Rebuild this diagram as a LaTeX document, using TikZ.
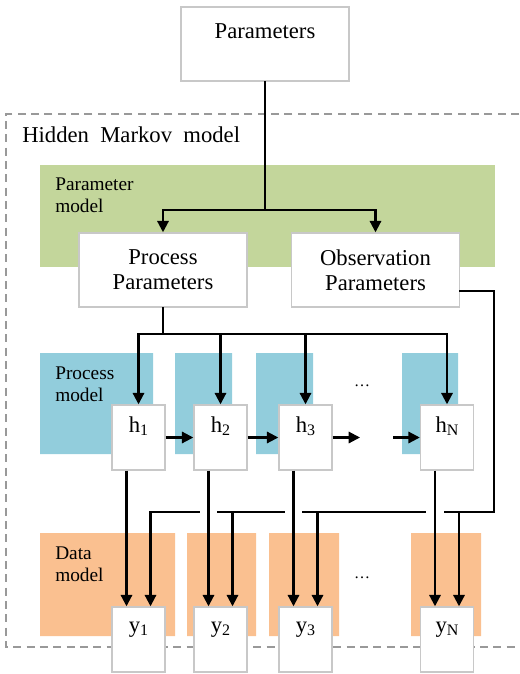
\documentclass[tikz,border=0pt]{standalone}
\usepackage{fontspec}
\setmainfont{Liberation Serif}
\usepackage{tikz}
\usetikzlibrary{arrows.meta,calc}
\definecolor{parmgreen}{RGB}{195,214,155}
\definecolor{procblue}{RGB}{146,205,220}
\definecolor{dataorange}{RGB}{250,192,144}
\definecolor{boxgray}{RGB}{200,200,200}
\newcommand{\lowidx}[1]{\raisebox{-0.3ex}{\fontsize{12}{14}\selectfont #1}}

\begin{document}
\begin{tikzpicture}[x=0.75pt,y=-0.75pt,
        wbox/.style={draw=boxgray,line width=1.1pt,fill=white,align=center,
          font=\fontsize{17}{19}\selectfont,inner sep=0pt},
        bigbox/.style={wbox,minimum width=126pt,minimum height=55.5pt},
        varbox/.style={wbox,minimum width=39.75pt,minimum height=48.75pt},
        wire/.style={line width=1.6pt,line cap=rect},
        arr/.style={line width=1.6pt,-{Triangle[length=8.5pt,width=8.5pt]}},
        modlabel/.style={anchor=north west,align=left,inner sep=0pt,
          font=\fontsize{14.5}{16}\selectfont},
        ]
        \useasboundingbox (0,0) rectangle (519,674);
        \draw[gray!80,line width=1.1pt,dash pattern=on 6pt off 4pt] (519,114) -| (6,647) -- (519,647);
        \node[anchor=north west,inner sep=0pt,font=\fontsize{17}{19}\selectfont] (hmmlabel) at (22,127) {Hidden\ \ Markov\ \ model};
        \fill[parmgreen] (40,165) rectangle (495,267);
        \fill[procblue] (40,353) rectangle (153,454) (175,353) rectangle (232,454)
          (256,353) rectangle (313,454) (402,353) rectangle (458,454);
        \fill[dataorange] (40,533) rectangle (175,636) (187,533) rectangle (256,636)
          (269,533) rectangle (339,636) (411,533) rectangle (481,636);
        \node[modlabel] (parmlabel) at (55,178) {Parameter\\model};
        \node[modlabel] (proclabel) at (55,367) {Process\\model};
        \node[modlabel] (datalabel) at (55,547) {Data\\model};
        \node[modlabel,anchor=center,font=\fontsize{12}{14}\selectfont] (hdots) at (362,386) {\ldots};
        \node[modlabel,anchor=center,font=\fontsize{12}{14}\selectfont] (ydots) at (362,578) {\ldots};

        \node[bigbox] (params) at (265,44) {Parameters\\\mbox{}};
        \node[bigbox] (procpar) at (163,270) {Process\\Parameters};
        \node[bigbox] (obspar) at (375.5,270) {Observation\\Parameters};
        \foreach \k/\x in {1/138.5,2/220.5,3/305.5,N/447} {
          \node[varbox] (h\k) at (\x,437.5) {h\lowidx{\k}\\\mbox{}};
          \node[varbox] (y\k) at (\x,639.5) {y\lowidx{\k}\\\mbox{}};
        }
        \coordinate (pbus) at (265,210);
        \coordinate (hbus) at (163,334);
        \coordinate (obsturn) at (494,512);
        \coordinate (dotsin) at (360,437.5);
        \coordinate (dotsout) at (393,437.5);

        \draw[wire] (params.south) -- (pbus);
        \draw[arr] (pbus) -| (procpar.north);
        \draw[arr] (pbus) -| (obspar.north);
        \draw[wire] (procpar.south) -- (hbus);
        \draw[arr] (hbus) -| (h1.north);
        \draw[arr] (hbus) -| (hN.north);
        \draw[arr] (h2.north |- hbus) -- (h2.north);
        \draw[arr] (h3.north |- hbus) -- (h3.north);
        \draw[arr] (h1) -- (h2);
        \draw[arr] (h2) -- (h3);
        \draw[arr] (h3) -- (dotsin);
        \draw[arr] (dotsout) -- (hN);
        \foreach \k in {1,2,3,N} {
          \draw[arr] ([xshift=-9pt]h\k.south) -- ([xshift=-9pt]y\k.north);
          \draw[arr] ([xshift=9pt]y\k.north |- obsturn) -- ([xshift=9pt]y\k.north);
        }
        \draw[wire] ([yshift=-16pt]obspar.east) -| (obsturn) -- ([xshift=-1.5pt]hN.south |- obsturn);
        \draw[wire] ([xshift=-16.5pt]hN.south |- obsturn) -- ([xshift=-1.5pt]h3.south |- obsturn);
        \draw[wire] ([xshift=-16.5pt]h3.south |- obsturn) -- ([xshift=-1.5pt]h2.south |- obsturn);
        \draw[wire] ([xshift=-16.5pt]h2.south |- obsturn) -- ([xshift=9pt]y1.north |- obsturn);
      \end{tikzpicture}
\end{document}
